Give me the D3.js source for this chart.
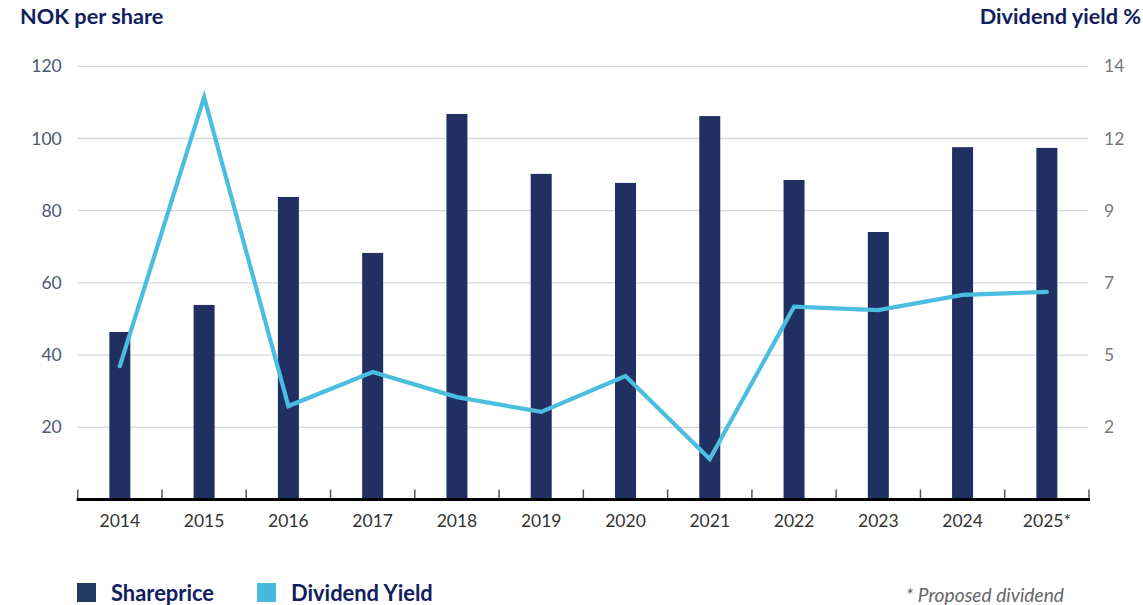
<!DOCTYPE html>
<html><head><meta charset="utf-8">
<script src="https://cdn.jsdelivr.net/npm/d3@7"></script>
<style>
body{margin:0;background:#fff;}
svg{display:block;font-family:Lato,"Open Sans",sans-serif;}
</style></head>
<body><svg id="c" width="1143" height="605"></svg>
<script>
const years = ["2014","2015","2016","2017","2018","2019","2020","2021","2022","2023","2024","2025*"];
const sharePrice = [46.4,53.9,83.8,68.3,106.8,90.2,87.7,106.2,88.5,74.1,97.6,97.4];
const dividendYield = [4.31,13.0,3.02,4.12,3.31,2.83,3.99,1.31,6.23,6.12,6.61,6.71];
const leftTicks = [20,40,60,80,100,120];
const rightTickLabels = ["2","5","7","9","12","14"];

const svg = d3.select("#c");
const L = 77.7, R = 1089, T = 66.3, B = 499.5;
const x = d3.scaleBand().domain(years).range([L, R]).paddingInner(0).paddingOuter(0);
const y = d3.scaleLinear().domain([0,120]).range([B, T]);
const y2 = d3.scaleLinear().domain([0,14]).range([B, T]);
const rightTickVals = leftTicks.map(v => y2.invert(y(v)));

// gridlines
svg.append("g").selectAll("line").data(leftTicks).join("line")
  .attr("x1", L).attr("x2", R-1).attr("y1", d=>y(d)).attr("y2", d=>y(d))
  .attr("stroke","#d3d9da").attr("stroke-width",1.3);

// left axis labels
const ly = svg.append("g").attr("transform",`translate(${L},0)`)
  .call(d3.axisLeft(y).tickValues(leftTicks).tickSize(0).tickPadding(16));
ly.select(".domain").remove();
ly.selectAll("text").attr("font-size",17.5).attr("fill","#4d5873").attr("font-family","Lato,sans-serif").attr("dy","0.32em");

// right axis labels
const ry = svg.append("g").attr("transform",`translate(${R},0)`)
  .call(d3.axisRight(y2).tickValues(rightTickVals).tickSize(0).tickPadding(15)
  .tickFormat((d,i)=>rightTickLabels[i]));
ry.select(".domain").remove();
ry.selectAll("text").attr("font-size",17.5).attr("fill","#777").attr("font-family","Lato,sans-serif").attr("dy","0.32em");

// bars
const bw = 21;
svg.append("g").selectAll("rect").data(years).join("rect")
  .attr("x", d=>x(d)+x.bandwidth()/2-bw/2).attr("width", bw)
  .attr("y", (d,i)=>y(sharePrice[i])).attr("height",(d,i)=>B-y(sharePrice[i]))
  .attr("fill","#213062");

// line
const line = d3.line().x((d,i)=>x(years[i])+x.bandwidth()/2).y(d=>y2(d));
svg.append("path").datum(dividendYield).attr("d",line)
  .attr("fill","none").attr("stroke","#4bbde0").attr("stroke-width",4.2)
  .attr("stroke-linejoin","miter").attr("stroke-linecap","round");

// x axis
const boundaries = years.map(d=>x(d)).concat([R]);
svg.append("g").selectAll("line").data(boundaries).join("line")
  .attr("x1",d=>d).attr("x2",d=>d).attr("y1",B-10).attr("y2",B)
  .attr("stroke","#555").attr("stroke-width",1.5);
svg.append("line").attr("x1",L-1).attr("x2",R+1).attr("y1",B).attr("y2",B)
  .attr("stroke","#000").attr("stroke-width",3);
const xa = svg.append("g").attr("transform",`translate(0,${B})`)
  .call(d3.axisBottom(x).tickSize(0).tickPadding(15));
xa.select(".domain").remove();
xa.selectAll("text").attr("font-size",17.5).attr("fill","#333").attr("font-family","Lato,sans-serif");

// titles
svg.append("text").attr("x",20).attr("y",24).text("NOK per share")
  .attr("font-size",21.7).attr("font-weight","bold").attr("fill","#10205e");
svg.append("text").attr("x",1141).attr("y",24).attr("text-anchor","end").text("Dividend yield %")
  .attr("font-size",21.7).attr("font-weight","bold").attr("fill","#10205e");

// legend
const legend = [{t:"Shareprice",c:"#1f3c5f",x:77},{t:"Dividend Yield",c:"#47b9df",x:257}];
const lg = svg.append("g").selectAll("g").data(legend).join("g");
lg.append("rect").attr("x",d=>d.x).attr("y",583).attr("width",19).attr("height",19).attr("fill",d=>d.c);
lg.append("text").attr("x",d=>d.x+34).attr("y",601).text(d=>d.t)
  .attr("font-size",21.9).attr("font-weight","bold").attr("fill","#10205e");

svg.append("text").attr("x",1064).attr("y",602).attr("text-anchor","end").text("* Proposed dividend")
  .attr("font-size",19.2).attr("font-style","italic").attr("fill","#666");
</script></body></html>
